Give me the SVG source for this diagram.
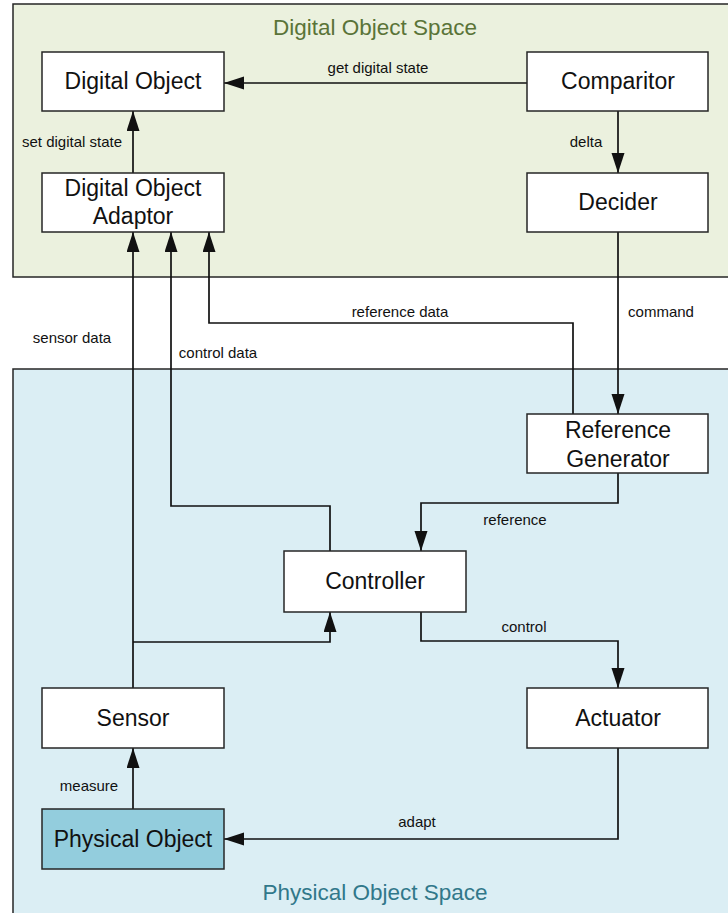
<svg xmlns="http://www.w3.org/2000/svg" width="728" height="913" viewBox="0 0 728 913">
  <defs>
    <style>
      .space-digital { fill: #ebf1de; stroke: #262626; stroke-width: 1.5; }
      .space-physical { fill: #dbeef4; stroke: #262626; stroke-width: 1.5; }
      .node rect { fill: #ffffff; stroke: #262626; stroke-width: 1.5; }
      .node.physical rect { fill: #93cddd; }
      .node text { font-family: "Liberation Sans", Arial, sans-serif; font-size: 23px; fill: #111; text-anchor: middle; }
      .title { font-family: "Liberation Sans", Arial, sans-serif; font-size: 22.5px; text-anchor: middle; }
      .title-digital { fill: #5a7438; }
      .title-physical { fill: #31788a; }
      .edges path { fill: none; stroke: #111; stroke-width: 1.7; }
      .label { font-family: "Liberation Sans", Arial, sans-serif; font-size: 15px; fill: #111; text-anchor: middle; }
    </style>
    <marker id="arrow" markerUnits="userSpaceOnUse" markerWidth="21" markerHeight="15" refX="20" refY="6.5" orient="auto">
      <path d="M0,0 L20,6.5 L0,13 Z" fill="#111"/>
    </marker>
  </defs>

  <!-- Spaces -->
  <rect class="space-digital" x="13" y="4" width="730" height="273"/>
  <text class="title title-digital" x="375" y="35">Digital Object Space</text>
  <rect class="space-physical" x="13" y="369" width="730" height="560"/>
  <text class="title title-physical" x="375" y="900">Physical Object Space</text>

  <!-- Connectors -->
  <g class="edges">
    <path id="e-get" d="M527,83 H224" marker-end="url(#arrow)"/>
    <path id="e-set" d="M133,173 V111" marker-end="url(#arrow)"/>
    <path id="e-delta" d="M618,111 V173" marker-end="url(#arrow)"/>
    <path id="e-command" d="M618,232 V414" marker-end="url(#arrow)"/>
    <path id="e-refdata" d="M573,414 V323 H209 V232" marker-end="url(#arrow)"/>
    <path id="e-sensordata" d="M133,688 V232" marker-end="url(#arrow)"/>
    <path id="e-controldata" d="M330,551 V506 H171 V232" marker-end="url(#arrow)"/>
    <path id="e-reference" d="M618,473 V503 H421 V551" marker-end="url(#arrow)"/>
    <path id="e-sense-ctrl" d="M133,642 H330 V612" marker-end="url(#arrow)"/>
    <path id="e-control" d="M421,612 V641 H618 V688" marker-end="url(#arrow)"/>
    <path id="e-measure" d="M133,809 V748" marker-end="url(#arrow)"/>
    <path id="e-adapt" d="M618,748 V839 H224" marker-end="url(#arrow)"/>
  </g>

  <!-- Connector labels -->
  <g class="labels">
    <text class="label" x="378" y="73">get digital state</text>
    <text class="label" x="72" y="147">set digital state</text>
    <text class="label" x="586" y="147">delta</text>
    <text class="label" x="400" y="317">reference data</text>
    <text class="label" x="661" y="317">command</text>
    <text class="label" x="72" y="343">sensor data</text>
    <text class="label" x="218" y="358">control data</text>
    <text class="label" x="515" y="525">reference</text>
    <text class="label" x="524" y="632">control</text>
    <text class="label" x="89" y="791">measure</text>
    <text class="label" x="417" y="827">adapt</text>
  </g>

  <!-- Nodes -->
  <g id="digital-object" class="node">
    <rect x="42" y="52" width="182" height="59"/>
    <text x="133" y="89">Digital Object</text>
  </g>
  <g id="digital-object-adaptor" class="node">
    <rect x="42" y="173" width="182" height="59"/>
    <text x="133" y="196">Digital Object</text>
    <text x="133" y="224">Adaptor</text>
  </g>
  <g id="comparitor" class="node">
    <rect x="527" y="52" width="181" height="59"/>
    <text x="618" y="89">Comparitor</text>
  </g>
  <g id="decider" class="node">
    <rect x="527" y="173" width="181" height="59"/>
    <text x="618" y="210">Decider</text>
  </g>
  <g id="reference-generator" class="node">
    <rect x="527" y="414" width="181" height="59"/>
    <text x="618" y="438">Reference</text>
    <text x="618" y="467">Generator</text>
  </g>
  <g id="controller" class="node">
    <rect x="284" y="551" width="182" height="61"/>
    <text x="375" y="589">Controller</text>
  </g>
  <g id="sensor" class="node">
    <rect x="42" y="688" width="182" height="60"/>
    <text x="133" y="726">Sensor</text>
  </g>
  <g id="actuator" class="node">
    <rect x="527" y="688" width="181" height="60"/>
    <text x="618" y="726">Actuator</text>
  </g>
  <g id="physical-object" class="node physical">
    <rect x="42" y="809" width="182" height="60"/>
    <text x="133" y="847">Physical Object</text>
  </g>
</svg>
